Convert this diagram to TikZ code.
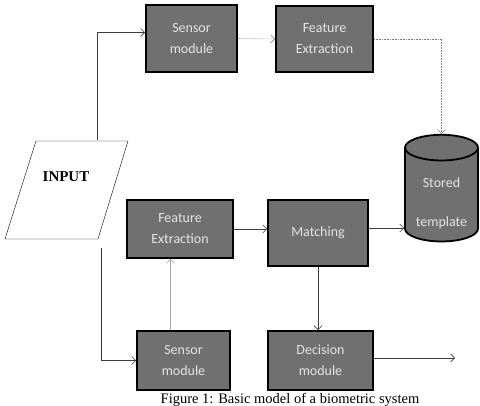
\documentclass[tikz,border=0pt]{standalone}
\usepackage{fontspec}
\setmainfont{Liberation Serif}
\newfontfamily\boxfont{Carlito}
\usetikzlibrary{
    arrows.meta,
    positioning,
    calc,
    shapes.geometric
}
\definecolor{BoxGray}{RGB}{112,112,112}
\definecolor{BoxText}{RGB}{228,228,228}
\definecolor{LineGray}{RGB}{60,60,60}
\tikzset{
  block/.style  = {draw=black, line width=1.8pt, fill=BoxGray, text=BoxText,
                   align=center, inner sep=0pt,
                   font=\boxfont\fontsize{14}{21}\selectfont},
  store/.style  = {block, cylinder, shape border rotate=90, aspect=0.5},
  arr/.style    = {-{Straight Barb[length=4pt,width=8pt]}, line width=0.6pt, LineGray},
  arrd/.style   = {arr, densely dotted, gray},
  arrl/.style   = {arr, gray!70}
}

\begin{document}
\begin{tikzpicture}[x=1pt,y=-1pt]
\useasboundingbox (0,0) rectangle (480,406);
\clip (0,0) rectangle (480,406);
% input
\draw[thin] (36,141) -- (128,141) -- (98,239) -- (5,239) -- cycle;
\node[font=\bfseries\fontsize{15}{18}\selectfont] (inp) at (66,177) {INPUT};
\coordinate (intop) at (97,140);
\coordinate (inbot) at (101,248);
% enrolment branch
\node[block, minimum width=91pt, minimum height=67pt] (sens1) at (191.5,38.5) {Sensor\\module};
\node[block, minimum width=97pt, minimum height=66pt] (feat1) at (324.5,39) {Feature\\Extraction};
\node[store, minimum width=73pt, minimum height=106pt] (tmpl) at (441.5,195)
  {\mbox{}\\[5pt]Stored\\[18pt]template};
% verification branch
\node[block, minimum width=106pt, minimum height=58pt] (feat2) at (180,229) {Feature\\Extraction};
\node[block, minimum width=100pt, minimum height=66pt] (match) at (318,233) {Matching};
\node[block, minimum width=93pt, minimum height=59pt] (sens2) at (183.5,360.5) {Sensor\\module};
\node[block, minimum width=105pt, minimum height=59pt] (dec) at (320.5,360.5) {Decision\\module};
\coordinate (out) at (455,358);
% caption
\node[anchor=base, font=\fontsize{14.5}{17}\selectfont] (cap) at (290,404)
  {Figure 1: Basic model of a biometric system};
% connectors
\draw[arr] (intop) |- ([yshift=6pt]sens1.west);
\draw[arrd] (sens1.east) -- (feat1.west);
\draw[arrd] (feat1.east) -| (tmpl.north);
\draw[arr] (inbot) |- (sens2.west);
\draw[arrl] ([xshift=-13pt]sens2.north) -- ([xshift=-13pt]sens2.north |- feat2.south);
\draw[arr] (feat2.east) -- (feat2.east -| match.west);
\draw[arr] ([yshift=5pt]match.east) -- ([yshift=5pt]match.east -| tmpl.west);
\draw[arr] (match.south) -- (match.south |- dec.north);
\draw[arr] (dec.east |- out) -- (out);
\end{tikzpicture}
\end{document}
